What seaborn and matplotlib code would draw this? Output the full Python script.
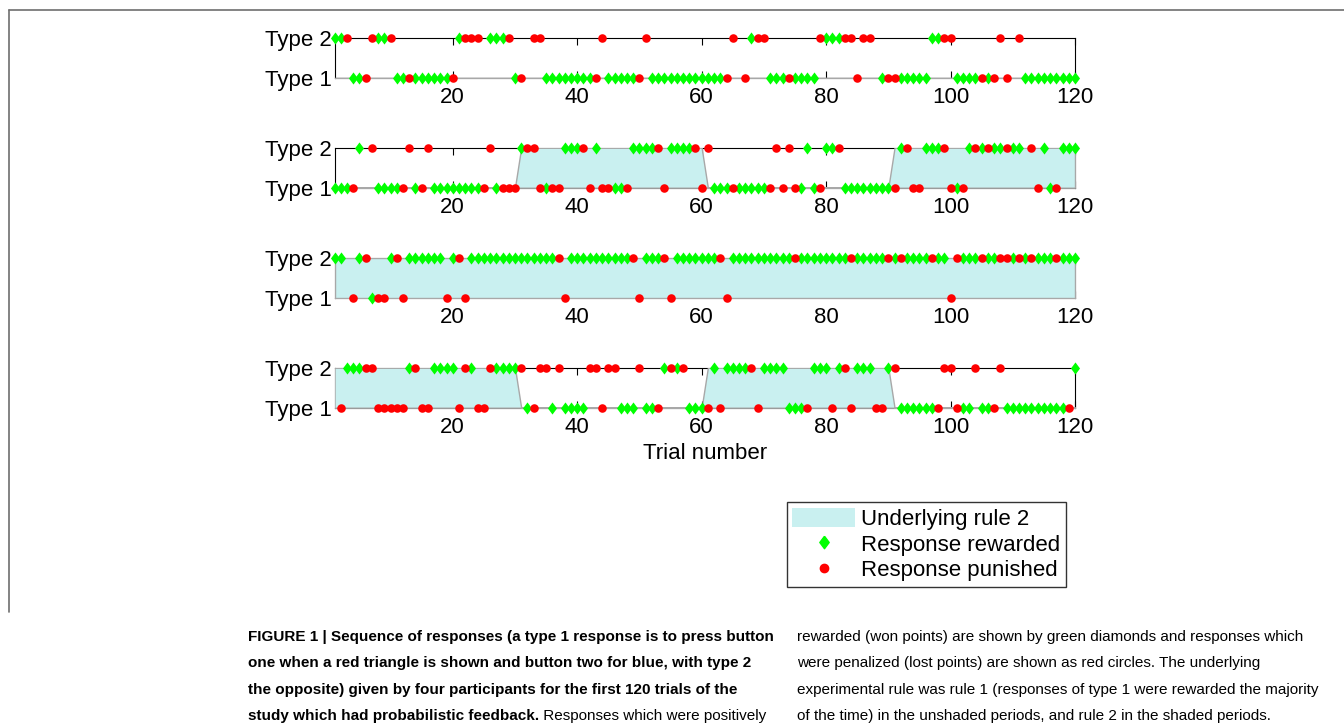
import numpy as np
import pandas as pd
import seaborn as sns
import matplotlib.pyplot as plt
from matplotlib.patches import Patch
from matplotlib.lines import Line2D

sns.set_style('white')
plt.rcParams['font.family'] = ['Liberation Sans', 'DejaVu Sans']
plt.rcParams['text.color'] = 'black'
plt.rcParams['axes.labelcolor'] = 'black'
plt.rcParams['xtick.color'] = 'black'
plt.rcParams['ytick.color'] = 'black'

trials = np.arange(1, 121)

# response type per trial ('1', '2', '-' = no response), written in blocks of ten trials
resp_p1 = ("2221112222 1111111111 2222-22221 1-22111111 1112111111 2111111111 "
           "11112-1222 1111111122 2222122-11 1111112222 111111121- 2111111111")
fb_p1 = ("GGRGGRRGGR GGRGGGGGGR GRRR-GGGRG R-RRGGGGGG GGRRGGGGGR RGGGGGGGGG "
         "GGGRR-RGRR GGGRGGGGRG GGRRRRR-GR RGGGGGGGRR GGGGRGRRR- RGGGGGGGGG")

resp_p2 = ("11112-2111 1121121111 1111121111 2221111222 2121111122 2221222221 "
           "2111111111 1212112112 2211111111 1221122221 1122222222 2-21211222")
fb_p2 = ("GGGRG-RGGG GRRGRRGGGG GGGGRRGRRR GRRRGRRGGG RRGRRGGRGG GGRRGGGGRR "
         "RGGGRGGGGG RRRRRGGGRG GRGGGGGGGG RGRRRGGGRR GRGRGRGGRG G-RRGGRGGG")

resp_p3 = ("22-1221112 2122222212 2122222222 2222222122 2222222221 2222122222 "
           "2221222222 2222222222 2222222222 2222222221 2222222222 2222222222")
fb_p3 = ("GG-RGRGRRG RRGGGGGGRG RRGGGGGGGG GGGGGGRRGG GGGGGGGGRR GGGRRGGGGG "
         "GGRRGGGGGG GGGGRGGGGG GGGRGGGGGR GRGGGGRGGR RGGGRGGRRG RGRGGGRGGG")

resp_p4 = ("-122222111 1122112222 1221122222 2112212111 1221221112 1112222111 "
           "1212222212 2221111222 1221222112 2111111122 1112111211 1111111112")
fb_p4 = ("-RGGGRRRRR RRGRRRGGGG RRGRRRGGGG RGRRRGRGGG GRRRRRGGGR GGRGRGRGGG "
         "RGRGGGGRRG GGGGGGRGGG RGRRGGGRRG RGGGGGGRRR RGGRGGRRGG GGGGGGGGRG")

# underlying rule in blocks of 30 trials
rule_p1 = [1, 1, 1, 1]
rule_p2 = [1, 2, 1, 2]
rule_p3 = [2, 2, 2, 2]
rule_p4 = [2, 1, 2, 1]

tick_vals = [20, 40, 60, 80, 100, 120]
type_labels = ['Type 1', 'Type 2']

shade = '#c9f0f0'
green = '#00ff00'
red = '#ff0000'
diamond = [(0, 1), (0.75, 0), (0, -1), (-0.75, 0), (0, 1)]


def to_frame(resp, fb):
    resp = resp.replace(' ', '')
    fb = fb.replace(' ', '')
    df = pd.DataFrame({'trial': trials, 'resp': list(resp), 'fb': list(fb)})
    df = df[df['resp'] != '-'].copy()
    df['type'] = df['resp'].astype(int)
    return df


W, H = 1344, 728
fig = plt.figure(figsize=(W / 100, H / 100), dpi=100)

participants = [(resp_p1, fb_p1, rule_p1), (resp_p2, fb_p2, rule_p2),
                (resp_p3, fb_p3, rule_p3), (resp_p4, fb_p4, rule_p4)]

for k, (resp, fb, rule) in enumerate(participants):
    ax = fig.add_axes([334.5 / W, 1 - (77.7 + 110 * k) / H, 740.5 / W, 40 / H])
    ax.fill_between(trials, 1, np.repeat(rule, 30), facecolor=shade,
                    edgecolor='#a8a8a8', lw=1, zorder=3)
    df = to_frame(resp, fb)
    sns.scatterplot(data=df[df['fb'] == 'G'], x='trial', y='type', marker=diamond,
                    color=green, s=76, linewidth=0, zorder=5, clip_on=False,
                    legend=False, ax=ax)
    sns.scatterplot(data=df[df['fb'] == 'R'], x='trial', y='type', marker='o',
                    color=red, s=38, linewidth=0, zorder=6, clip_on=False,
                    legend=False, ax=ax)
    ax.set_xlim(1, 120)
    ax.set_ylim(1, 2)
    ax.set_xticks(tick_vals)
    ax.set_xticklabels([str(v) for v in tick_vals])
    ax.set_yticks([1, 2])
    ax.set_yticklabels(type_labels)
    ax.tick_params(axis='x', direction='in', top=True, bottom=True, length=5,
                   width=0.8, labelsize=16, pad=7, color='black')
    ax.tick_params(axis='y', length=0, labelsize=16, pad=2)
    for sp in ax.spines.values():
        sp.set_color('black')
        sp.set_linewidth(0.8)
        sp.set_visible(True)
    ax.set_ylabel('')
    ax.set_xlabel('Trial number' if k == 3 else '', fontsize=16, labelpad=3)
    ax.set_facecolor('none')

handles = [Patch(facecolor=shade, edgecolor='none'),
           Line2D([], [], marker=diamond, color=green, markersize=9, linestyle='none'),
           Line2D([], [], marker='o', color=red, markersize=6, linestyle='none')]
labels = ['Underlying rule 2', 'Response rewarded', 'Response punished']
fig.legend(handles, labels, loc='upper right', bbox_to_anchor=(1066 / W, 1 - 502 / H),
           frameon=True, fancybox=False, edgecolor='#333333', framealpha=1,
           fontsize=16, handlelength=2.8, handleheight=1.0, handletextpad=0.3,
           labelspacing=0.14, borderpad=0.25, borderaxespad=0)

# outer frame of the figure panel
fig.add_artist(Line2D([9 / W, 1], [1 - 10 / H, 1 - 10 / H], transform=fig.transFigure,
                      color='#6e6e6e', lw=1.2))
fig.add_artist(Line2D([9 / W, 9 / W], [1 - 10 / H, 1 - 612 / H], transform=fig.transFigure,
                      color='#6e6e6e', lw=1.2))

# caption
cap_family = ['Liberation Sans Narrow', 'DejaVu Sans Condensed', 'Liberation Sans']
line_y = [637, 663, 690, 716]
left_bold = ["FIGURE 1 | Sequence of responses (a type 1 response is to press button",
             "one when a red triangle is shown and button two for blue, with type 2",
             "the opposite) given by four participants for the first 120 trials of the",
             "study which had probabilistic feedback."]
left_tail = " Responses which were positively"
right_lines = ["rewarded (won points) are shown by green diamonds and responses which",
               "were penalized (lost points) are shown as red circles. The underlying",
               "experimental rule was rule 1 (responses of type 1 were rewarded the majority",
               "of the time) in the unshaded periods, and rule 2 in the shaded periods."]

renderer = fig.canvas.get_renderer()
base = 12
t1 = fig.text(0, 0, left_bold[0], fontsize=base, fontweight='bold', family=cap_family)
t2 = fig.text(0, 0, right_lines[2], fontsize=base, family=cap_family)
scale = min(522 / t1.get_window_extent(renderer).width,
            538 / t2.get_window_extent(renderer).width, 1.0)
t1.remove()
t2.remove()
fs = base * scale

for y, txt in zip(line_y, left_bold):
    fig.text(248 / W, 1 - y / H, txt, fontsize=fs, fontweight='bold', family=cap_family,
             va='center', ha='left')
last = fig.texts[-1]
x_end = last.get_window_extent(renderer).x1
fig.text(x_end / W, 1 - line_y[3] / H, left_tail, fontsize=fs, family=cap_family,
         va='center', ha='left')
for y, txt in zip(line_y, right_lines):
    fig.text(797 / W, 1 - y / H, txt, fontsize=fs, family=cap_family,
             va='center', ha='left')

fig.savefig('out.png', dpi=100, facecolor='white')
